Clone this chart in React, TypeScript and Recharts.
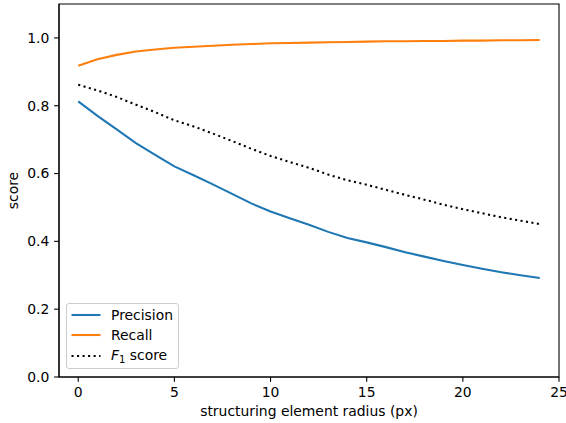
import React from 'react';
import { LineChart, Line, XAxis, YAxis, Legend, ReferenceArea } from 'recharts';

const radius = [0, 1, 2, 3, 4, 5, 6, 7, 8, 9, 10, 11, 12, 13, 14, 15, 16, 17, 18, 19, 20, 21, 22, 23, 24];
const precision = [0.813, 0.770, 0.730, 0.690, 0.655, 0.621, 0.595, 0.568, 0.540, 0.512, 0.488, 0.468, 0.449, 0.428, 0.410, 0.397, 0.383, 0.368, 0.355, 0.342, 0.330, 0.319, 0.309, 0.300, 0.292];
const recall = [0.918, 0.937, 0.950, 0.960, 0.966, 0.971, 0.974, 0.977, 0.980, 0.982, 0.984, 0.985, 0.986, 0.987, 0.988, 0.989, 0.990, 0.990, 0.991, 0.991, 0.992, 0.992, 0.993, 0.993, 0.994];
const f1 = [0.862, 0.845, 0.826, 0.803, 0.781, 0.757, 0.739, 0.718, 0.696, 0.673, 0.652, 0.634, 0.617, 0.597, 0.580, 0.567, 0.552, 0.537, 0.523, 0.508, 0.495, 0.483, 0.471, 0.461, 0.451];
const xTicks = [0, 5, 10, 15, 20, 25];
const yTicks = [0, 0.2, 0.4, 0.6, 0.8, 1.0];

const data = radius.map((r, i) => ({ r, precision: precision[i], recall: recall[i], f1: f1[i] }));

const FONT = '"DejaVu Sans", sans-serif';
const FS = 13.9;
const BLUE = '#1f77b4';
const ORANGE = '#ff7f0e';

const YLabel = (props: any) => {
  const vb = props.viewBox || { x: 0, y: 0, width: 0, height: 0 };
  const cx = vb.x + 18.3;
  const cy = vb.y + vb.height / 2;
  return (
    <text x={cx} y={cy} transform={`rotate(-90, ${cx}, ${cy})`} textAnchor="middle" fontFamily={FONT} fontSize={FS} fill="#000">
      score
    </text>
  );
};

const LegendBox = () => {
  const rows: { label: React.ReactNode; color: string; dash?: boolean }[] = [
    { label: 'Precision', color: BLUE },
    { label: 'Recall', color: ORANGE },
    { label: <span><i>F</i><sub style={{ fontSize: 10, verticalAlign: 'baseline', position: 'relative', top: 3 }}>1</sub> score</span>, color: '#000', dash: true },
  ];
  return (
    <div style={{ width: 113, height: 66, boxSizing: 'border-box', border: '1.2px solid #cccccc', borderRadius: 3, background: 'rgba(255,255,255,0.8)', fontFamily: FONT, fontSize: FS, color: '#000', position: 'relative' }}>
      {rows.map((row, i) => (
        <div key={i} style={{ position: 'absolute', left: 0, top: 1 + i * 20.4, height: 20, width: 111, display: 'flex', alignItems: 'center' }}>
          <svg width={44} height={20} style={{ flex: 'none' }}>
            <line x1={4.5} x2={33.5} y1={10} y2={10} stroke={row.color} strokeWidth={2.08} strokeDasharray={row.dash ? '2.08 3.44' : undefined} />
          </svg>
          <span style={{ whiteSpace: 'nowrap', lineHeight: '20px' }}>{row.label}</span>
        </div>
      ))}
    </div>
  );
};

export default function App() {
  return (
    <div style={{ position: 'absolute', left: 0, top: 0, width: 566, height: 423, background: '#fff' }}>
      <LineChart width={566} height={423} data={data} margin={{ top: 4, right: 7, left: 0, bottom: 0 }}>
        <XAxis
          dataKey="r"
          type="number"
          domain={[-1, 25]}
          ticks={xTicks}
          allowDataOverflow
          height={46}
          tickSize={4.86}
          tickMargin={5}
          axisLine={{ stroke: '#000', strokeWidth: 1.1 }}
          tickLine={{ stroke: '#000', strokeWidth: 1.1 }}
          tick={{ fill: '#000', fontFamily: FONT, fontSize: FS }}
          label={{ value: 'structuring element radius (px)', position: 'insideBottom', offset: 7.5, fill: '#000', fontFamily: FONT, fontSize: FS }}
        />
        <YAxis
          type="number"
          domain={[0, 1.1]}
          ticks={yTicks}
          allowDataOverflow
          width={59}
          tickSize={4.86}
          tickMargin={4.86}
          tickFormatter={(v: number) => v.toFixed(1)}
          axisLine={{ stroke: '#000', strokeWidth: 1.1 }}
          tickLine={{ stroke: '#000', strokeWidth: 1.1 }}
          tick={{ fill: '#000', fontFamily: FONT, fontSize: FS }}
          label={<YLabel />}
        />
        <ReferenceArea x1={-1} x2={25} y1={0} y2={1.1} fill="none" stroke="#000" strokeWidth={1.1} strokeOpacity={1} />
        <Line type="linear" dataKey="precision" stroke={BLUE} strokeWidth={2.08} dot={false} isAnimationActive={false} />
        <Line type="linear" dataKey="recall" stroke={ORANGE} strokeWidth={2.08} dot={false} isAnimationActive={false} />
        <Line type="linear" dataKey="f1" stroke="#000" strokeWidth={2.08} strokeDasharray="2.08 3.44" dot={false} isAnimationActive={false} />
        <Legend
          layout="horizontal"
          verticalAlign="middle"
          align="center"
          wrapperStyle={{ left: 66, top: 303, width: 113, height: 66 }}
          content={() => <LegendBox />}
        />
      </LineChart>
    </div>
  );
}
